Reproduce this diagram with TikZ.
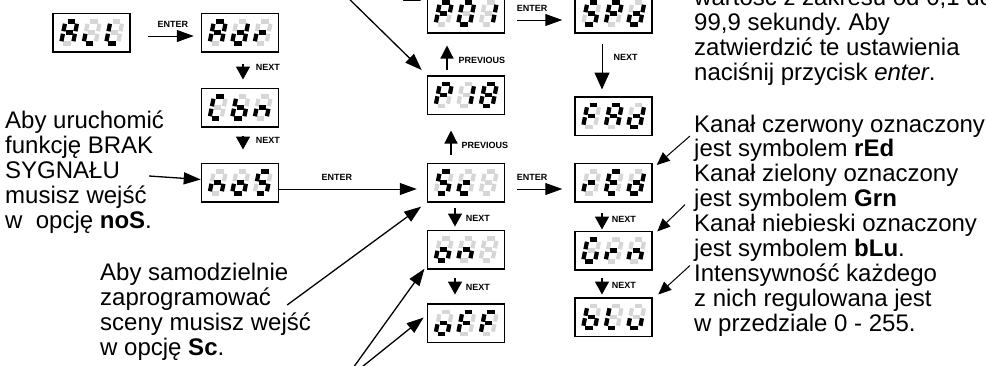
\documentclass[tikz,border=0pt]{standalone}
\usepackage{fontspec}
\setmainfont{Liberation Sans}
\frenchspacing
\usetikzlibrary{positioning,arrows.meta}

% one slanted seven-segment digit inside panel #1, #2 = x offset, #3 = lit segments
\newcommand{\segdigit}[3]{%
  \begin{scope}[shift={(#1.center)}, shift={(#2,11)}, xslant=0.2]
    \coordinate (sa1) at (2.3,-22);  \coordinate (sa2) at (9.7,-22);
    \coordinate (sb1) at (12,-19.7); \coordinate (sb2) at (12,-12.3);
    \coordinate (sc1) at (12,-9.7);  \coordinate (sc2) at (12,-2.3);
    \coordinate (sd1) at (2.3,0);    \coordinate (sd2) at (9.7,0);
    \coordinate (se1) at (0,-9.7);   \coordinate (se2) at (0,-2.3);
    \coordinate (sf1) at (0,-19.7);  \coordinate (sf2) at (0,-12.3);
    \coordinate (sg1) at (2.3,-11);  \coordinate (sg2) at (9.7,-11);
    \foreach \s in {a,...,g} \draw[segoff] (s\s1) -- (s\s2);
    \if\relax\detokenize{#3}\relax\else
      \foreach \s in {#3} \draw[segon] (s\s1) -- (s\s2);
    \fi
  \end{scope}}

% panel with three digits
\newcommand{\lcdpanel}[5]{%
  \node[lcd] (#1) at (#2) {};
  \segdigit{#1}{-30.5}{#3}\segdigit{#1}{-8}{#4}\segdigit{#1}{14.5}{#5}}

\begin{document}
\begin{tikzpicture}[x=1pt, y=-1pt,
    lcd/.style = {draw, line width=1.5pt, minimum width=77pt, minimum height=38.5pt, inner sep=0pt},
    segon/.style = {line width=4.2pt, black},
    segoff/.style = {line width=4.2pt, black!16},
    txt/.style = {anchor=base west, inner sep=0pt, font=\fontsize{24}{25}\selectfont},
    keylabel/.style = {inner sep=1pt, font=\fontsize{9}{9}\selectfont\bfseries},
    enterarrow/.style = {line width=1pt, -{Triangle[length=17pt, width=12pt]}},
    nextarrow/.style = {line width=1.6pt, -{Triangle[length=13pt, width=14pt]}},
    prevarrow/.style = {line width=1.2pt, -{Triangle[length=13pt, width=13pt]}},
    pointer/.style = {line width=1.3pt, -{Triangle[length=17pt, width=12pt]}},
    hint/.style = {line width=1pt, -{Triangle[length=13pt, width=11pt]}}]

  \useasboundingbox (0,0) rectangle (986,365);
  \clip (0,0) rectangle (986,365);

  % panels
  \lcdpanel{ALL}{91.5,32.5}{a,b,c,e,f,g}{d,e}{d,e,f}
  \lcdpanel{Adr}{240,32.5}{a,b,c,e,f,g}{b,c,d,e,g}{e,g}
  \lcdpanel{Cbn}{240,107.5}{a,d,e,f}{c,d,e,f,g}{c,e,g}
  \lcdpanel{noS}{240,182.5}{c,e,g}{c,d,e,g}{a,c,d,f,g}
  \lcdpanel{P01}{466,13.5}{a,b,e,f,g}{a,b,c,d,e,f}{b,c}
  \lcdpanel{SPd}{613.5,13.5}{a,c,d,f,g}{a,b,e,f,g}{b,c,d,e,g}
  \lcdpanel{P18}{466,95}{a,b,e,f,g}{b,c}{a,b,c,d,e,f,g}
  \lcdpanel{FAd}{613.5,116}{a,e,f,g}{a,b,c,e,f,g}{b,c,d,e,g}
  \lcdpanel{Sc}{466,182.5}{a,c,d,f,g}{d,e,g}{}
  \lcdpanel{on}{466,249.5}{c,d,e,g}{c,e,g}{}
  \lcdpanel{oFF}{466,323}{c,d,e,g}{a,e,f,g}{a,e,f,g}
  \lcdpanel{rEd}{613.5,182.5}{e,g}{a,d,e,f,g}{b,c,d,e,g}
  \lcdpanel{Grn}{613.5,250.5}{a,c,d,e,f}{e,g}{c,e,g}
  \lcdpanel{bLu}{613.5,317}{c,d,e,f,g}{d,e,f}{c,d,e}

  % enter
  \draw[enterarrow, shorten <=17pt, shorten >=7pt] ([yshift=-3.5pt]ALL.east) -- node[keylabel, above=7pt, pos=.6] {ENTER} ([yshift=-3.5pt]Adr.west);
  \draw[enterarrow, shorten <=12pt, shorten >=12pt] ([yshift=-6.5pt]P01.east) -- node[keylabel, above=7pt, pos=.39] {ENTER} ([yshift=-6.5pt]SPd.west);
  \draw[enterarrow, shorten >=10pt] ([yshift=-6.5pt]noS.east) -- node[keylabel, above=7pt, pos=.39] {ENTER} ([yshift=-6.5pt]Sc.west);
  \draw[enterarrow, shorten <=12pt, shorten >=12pt] ([yshift=-6.5pt]Sc.east) -- node[keylabel, above=7pt, pos=.39] {ENTER} ([yshift=-6.5pt]rEd.west);

  % next
  \draw[nextarrow, shorten <=11pt, shorten >=8pt] ([xshift=3pt]Adr.south) -- node[keylabel, right=11pt, pos=.42] {NEXT} ([xshift=3pt]Cbn.north);
  \draw[nextarrow, shorten <=8pt, shorten >=13pt] ([xshift=3pt]Cbn.south) -- node[keylabel, right=11pt, pos=.38] {NEXT} ([xshift=3pt]noS.north);
  \draw[nextarrow, shorten <=5.5pt, shorten >=3pt] ([xshift=-11pt]Sc.south) -- node[keylabel, right=9pt, pos=.58] {NEXT} ([xshift=-11pt]on.north);
  \draw[nextarrow, shorten <=8pt, shorten >=8.5pt] ([xshift=-11pt]on.south) -- node[keylabel, right=9pt, pos=.52] {NEXT} ([xshift=-11pt]oFF.north);
  \draw[nextarrow, shorten <=10.5pt, shorten >=1pt] ([xshift=-11.5pt]rEd.south) -- node[keylabel, right=8pt, pos=.6] {NEXT} ([xshift=-11.5pt]Grn.north);
  \draw[nextarrow, shorten <=7pt, shorten >=2.5pt] ([xshift=-11.5pt]Grn.south) -- node[keylabel, right=8pt, pos=.55] {NEXT} ([xshift=-11.5pt]bLu.north);
  \draw[line width=1pt, -{Triangle[length=17pt, width=15pt]}, shorten <=10pt, shorten >=6.5pt] ([xshift=-11.5pt]SPd.south) -- node[keylabel, right=10pt, pos=.38] {NEXT} ([xshift=-11.5pt]FAd.north);

  % previous
  \draw[prevarrow, shorten <=5.5pt, shorten >=12pt] ([xshift=-19pt]P18.north) -- node[keylabel, right=10pt, pos=.36] {PREVIOUS} ([xshift=-19pt]P01.south);
  \draw[prevarrow, shorten <=7.5pt, shorten >=15.5pt] ([xshift=-15pt]Sc.north) -- node[keylabel, right=9pt, pos=.36] {PREVIOUS} ([xshift=-15pt]P18.south);

  % texts
  \foreach [count=\i] \t in {Aby uruchomić, funkcję BRAK, SYGNAŁU, musisz wejść, w\ \ opcję \textbf{noS}.}
    \node[txt] (sig\i) at (5, 103+25*\i) {\t};
  \foreach [count=\i] \t in {Aby samodzielnie, zaprogramować, sceny musisz wejść, w opcję \textbf{Sc}.}
    \node[txt] (scn\i) at (100, 255+25*\i) {\t};
  \foreach [count=\i] \t in {{wartość z zakresu od 0,1 do}, {99,9 sekundy. Aby}, zatwierdzić te ustawienia, naciśnij przycisk \textit{enter}.}
    \node[txt] (spd\i) at (694, -20+25*\i) {\t};
  \foreach [count=\i] \t in {Kanał czerwony oznaczony, jest symbolem \textbf{rEd}, Kanał zielony oznaczony, jest symbolem \textbf{Grn}, Kanał niebieski oznaczony, jest symbolem \textbf{bLu}., Intensywność każdego, z nich regulowana jest, w przedziale 0 - 255.}
    \node[txt] (rgb\i) at (694, 107.1+24.9*\i) {\t};

  % pointers
  \coordinate (topfree1) at (340,-10);
  \coordinate (topfree2) at (380,-14);
  \coordinate (onfree) at (348,375);
  \coordinate (offfree) at (352,375);
  \draw[pointer, shorten >=7pt] (topfree1) -- (P18.north west);
  \draw[pointer, shorten >=6pt] (topfree2) -- ([yshift=10.5pt]P01.west);
  \draw[pointer] ([xshift=29pt, yshift=2pt]sig3.base east) -- ([yshift=3pt]noS.west);
  \draw[pointer, shorten >=7pt] ([xshift=16pt]scn2.base east) -- (Sc.south west);
  \draw[pointer, shorten >=4pt] (onfree) -- ([yshift=4pt]on.south west);
  \draw[pointer, shorten >=4pt] (offfree) -- ([yshift=8pt]oFF.west);
  \draw[hint] ([xshift=-4pt, yshift=-4pt]rgb1.base west) -- ([xshift=4pt, yshift=-2.5pt]rEd.north east);
  \draw[hint] ([xshift=-9pt, yshift=2pt]rgb4.base west) -- ([xshift=4.5pt, yshift=-1pt]Grn.north east);
  \draw[hint] ([xshift=-4pt, yshift=-9pt]rgb6.base west) -- ([xshift=5.5pt, yshift=2.5pt]bLu.north east);
\end{tikzpicture}
\end{document}
